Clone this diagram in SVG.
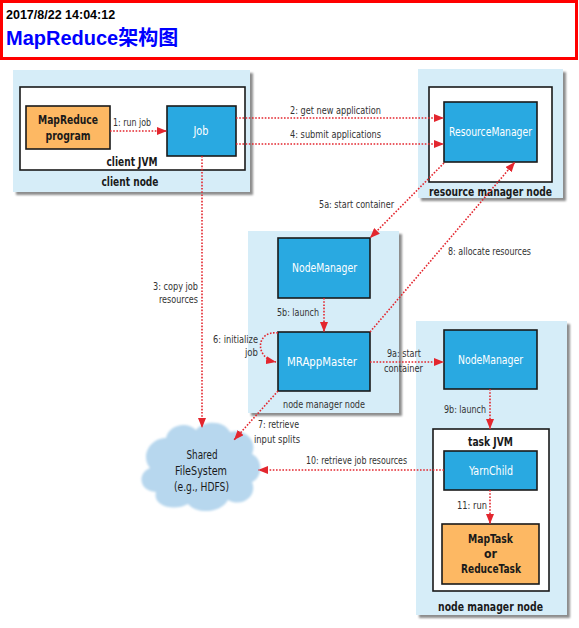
<svg xmlns="http://www.w3.org/2000/svg" width="579" height="628" viewBox="0 0 579 628">
<style>
.node{fill:#d6edf8;filter:url(#sh)}
.jvm{fill:#fff;stroke:#1a1a1a;stroke-width:1.6}
.blue{fill:#29a9e1;stroke:#1a1a1a;stroke-width:1.6}
.orange{fill:#fdb863;stroke:#1a1a1a;stroke-width:1.6}
text{lengthAdjust:spacingAndGlyphs}
.wt{font-family:"Liberation Sans Narrow","DejaVu Sans Condensed","Liberation Sans",sans-serif;font-size:12.5px;fill:#fff;text-anchor:middle}
.bt{font-family:"Liberation Sans Narrow","DejaVu Sans Condensed","Liberation Sans",sans-serif;font-size:12.5px;font-weight:bold;fill:#1a1a1a;text-anchor:middle}
.lb{font-family:"Liberation Sans Narrow","DejaVu Sans Condensed","Liberation Sans",sans-serif;font-size:11px;fill:#333}
.ct{font-family:"Liberation Sans Narrow","DejaVu Sans Condensed","Liberation Sans",sans-serif;font-size:12px;fill:#1a1a1a;text-anchor:middle}
.con{fill:none;stroke:#e3262e;stroke-width:1.6;stroke-dasharray:1.6 1.6;marker-end:url(#ah)}
</style>
<defs>
<filter id="sh" x="-5%" y="-5%" width="115%" height="115%">
<feGaussianBlur in="SourceAlpha" stdDeviation="1.2"/>
<feOffset dx="2.5" dy="2.5" result="b"/>
<feComponentTransfer><feFuncA type="linear" slope="0.45"/></feComponentTransfer>
<feMerge><feMergeNode/><feMergeNode in="SourceGraphic"/></feMerge>
</filter>
<filter id="soft" x="-5%" y="-5%" width="110%" height="110%">
<feGaussianBlur stdDeviation="0.8"/>
</filter>
<marker id="ah" viewBox="0 0 10 8" refX="10" refY="4" markerWidth="10" markerHeight="8" markerUnits="userSpaceOnUse" orient="auto">
<path d="M0 0 L10 4 L0 8 Z" fill="#e3262e"/>
</marker>
</defs>
<rect width="579" height="628" fill="#fff"/>
<g id="title">
<rect x="1.5" y="1.5" width="575" height="57" fill="#fff" stroke="#ff0000" stroke-width="3"/>
<text x="6" y="19" font-family="Liberation Sans,Arial,sans-serif" font-size="12.5" font-weight="bold" fill="#000">2017/8/22 14:04:12</text>
<text x="6" y="45" font-family="Liberation Sans,Arial,'Noto Sans CJK SC',sans-serif" font-size="20" font-weight="bold" fill="#0000ff">MapReduce架构图</text>
</g>
<g id="client-node">
<rect class="node" x="13" y="70" width="237" height="122"/>
<rect class="jvm" x="20" y="87" width="225" height="83"/>
<text class="bt" x="132" y="166" textLength="51" lengthAdjust="spacingAndGlyphs">client JVM</text>
<text class="bt" x="130" y="186" textLength="57" lengthAdjust="spacingAndGlyphs">client node</text>
</g>
<g id="mapreduce-program">
<rect class="orange" x="26" y="106" width="84" height="43"/>
<text class="bt" x="68" y="124" textLength="60" lengthAdjust="spacingAndGlyphs">MapReduce</text>
<text class="bt" x="68" y="140" textLength="45" lengthAdjust="spacingAndGlyphs">program</text>
</g>
<g id="job">
<rect class="blue" x="167" y="106" width="69" height="50"/>
<text class="wt" x="201" y="135" textLength="15" lengthAdjust="spacingAndGlyphs">Job</text>
</g>
<g id="resource-manager-node">
<rect class="node" x="418" y="69" width="145" height="129"/>
<rect class="jvm" x="429" y="87" width="123" height="95"/>
<text class="bt" x="490.5" y="196" textLength="123" lengthAdjust="spacingAndGlyphs">resource manager node</text>
</g>
<g id="resource-manager">
<rect class="blue" x="444" y="102" width="93" height="60"/>
<text class="wt" x="490.5" y="136" textLength="83" lengthAdjust="spacingAndGlyphs">ResourceManager</text>
</g>
<g id="node-manager-node-1">
<rect class="node" x="248" y="231" width="151" height="182"/>
<text class="lb" x="324" y="408" text-anchor="middle" font-size="11.5" textLength="82" lengthAdjust="spacingAndGlyphs">node manager node</text>
</g>
<g id="node-manager-1">
<rect class="blue" x="278" y="238" width="92" height="60"/>
<text class="wt" x="324.5" y="272" textLength="65" lengthAdjust="spacingAndGlyphs">NodeManager</text>
</g>
<g id="mrappmaster">
<rect class="blue" x="278" y="332" width="92" height="59"/>
<text class="wt" x="322" y="366" font-size="13.5" textLength="70" lengthAdjust="spacingAndGlyphs">MRAppMaster</text>
</g>
<g id="node-manager-node-2">
<rect class="node" x="416" y="321" width="151" height="294"/>
<rect class="jvm" x="433" y="429" width="116" height="162"/>
<text class="bt" x="490.5" y="446" textLength="45" lengthAdjust="spacingAndGlyphs">task JVM</text>
<text class="bt" x="490.5" y="611" textLength="105" lengthAdjust="spacingAndGlyphs">node manager node</text>
</g>
<g id="node-manager-2">
<rect class="blue" x="444" y="330" width="93" height="59"/>
<text class="wt" x="490.5" y="364" textLength="65" lengthAdjust="spacingAndGlyphs">NodeManager</text>
</g>
<g id="yarnchild">
<rect class="blue" x="444" y="451" width="93" height="39"/>
<text class="wt" x="491" y="475" textLength="44" lengthAdjust="spacingAndGlyphs">YarnChild</text>
</g>
<g id="task">
<rect class="orange" x="442" y="524" width="97" height="60"/>
<text class="bt" x="490.5" y="543" textLength="45" lengthAdjust="spacingAndGlyphs">MapTask</text>
<text class="bt" x="490.5" y="558" textLength="13" lengthAdjust="spacingAndGlyphs">or</text>
<text class="bt" x="491" y="573" textLength="60" lengthAdjust="spacingAndGlyphs">ReduceTask</text>
</g>
<g id="shared-filesystem">
<path filter="url(#soft)" d="M166 438 C168 426 186 420 196 430 C204 420 224 420 230 432 C244 428 258 440 252 454 C264 460 262 478 252 482 C258 496 242 508 228 500 C220 514 196 514 188 504 C174 512 152 506 156 492 C140 492 136 474 150 468 C140 456 150 438 166 438 Z" fill="#b7d7ee"/>
<text class="ct" x="202" y="459" textLength="31" lengthAdjust="spacingAndGlyphs">Shared</text>
<text class="ct" x="201" y="475" textLength="52" lengthAdjust="spacingAndGlyphs">FileSystem</text>
<text class="ct" x="201.5" y="491" textLength="55" lengthAdjust="spacingAndGlyphs">(e.g., HDFS)</text>
</g>
<g id="connectors">
<path class="con" d="M110 131 L167 131"/>
<path class="con" d="M236 118 L444 118"/>
<path class="con" d="M236 144 L444 144"/>
<path class="con" d="M202 156 L202 428"/>
<path class="con" d="M444 163 L370 238"/>
<path class="con" d="M324 298 L324 332"/>
<path class="con" d="M278 333 C256 330 254 358 276 362"/>
<path class="con" d="M370 332 L515 162"/>
<path class="con" d="M278 391 L234 440"/>
<path class="con" d="M370 362 L444 362"/>
<path class="con" d="M490 389 L490 429"/>
<path class="con" d="M444 470 L258 470"/>
<path class="con" d="M490 490 L490 524"/>
<text class="lb" x="113" y="126" textLength="38" lengthAdjust="spacingAndGlyphs">1: run job</text>
<text class="lb" x="290" y="114" textLength="91" lengthAdjust="spacingAndGlyphs">2: get new application</text>
<text class="lb" x="290" y="138" textLength="91" lengthAdjust="spacingAndGlyphs">4: submit applications</text>
<text class="lb" x="153" y="290" textLength="45" lengthAdjust="spacingAndGlyphs">3: copy job</text>
<text class="lb" x="159" y="303" textLength="39" lengthAdjust="spacingAndGlyphs">resources</text>
<text class="lb" x="319" y="208" textLength="75" lengthAdjust="spacingAndGlyphs">5a: start container</text>
<text class="lb" x="448" y="255" textLength="83" lengthAdjust="spacingAndGlyphs">8: allocate resources</text>
<text class="lb" x="277" y="316" textLength="42" lengthAdjust="spacingAndGlyphs">5b: launch</text>
<text class="lb" x="213" y="343" textLength="45" lengthAdjust="spacingAndGlyphs">6: initialize</text>
<text class="lb" x="245" y="356" textLength="13" lengthAdjust="spacingAndGlyphs">job</text>
<text class="lb" x="387" y="357" textLength="34" lengthAdjust="spacingAndGlyphs">9a: start</text>
<text class="lb" x="384" y="372" textLength="39" lengthAdjust="spacingAndGlyphs">container</text>
<text class="lb" x="258" y="428" textLength="41" lengthAdjust="spacingAndGlyphs">7: retrieve</text>
<text class="lb" x="254" y="443" textLength="46" lengthAdjust="spacingAndGlyphs">input splits</text>
<text class="lb" x="444" y="413" textLength="42" lengthAdjust="spacingAndGlyphs">9b: launch</text>
<text class="lb" x="306" y="464" textLength="101" lengthAdjust="spacingAndGlyphs">10: retrieve job resources</text>
<text class="lb" x="457" y="509" textLength="30" lengthAdjust="spacingAndGlyphs">11: run</text>
</g>
</svg>
